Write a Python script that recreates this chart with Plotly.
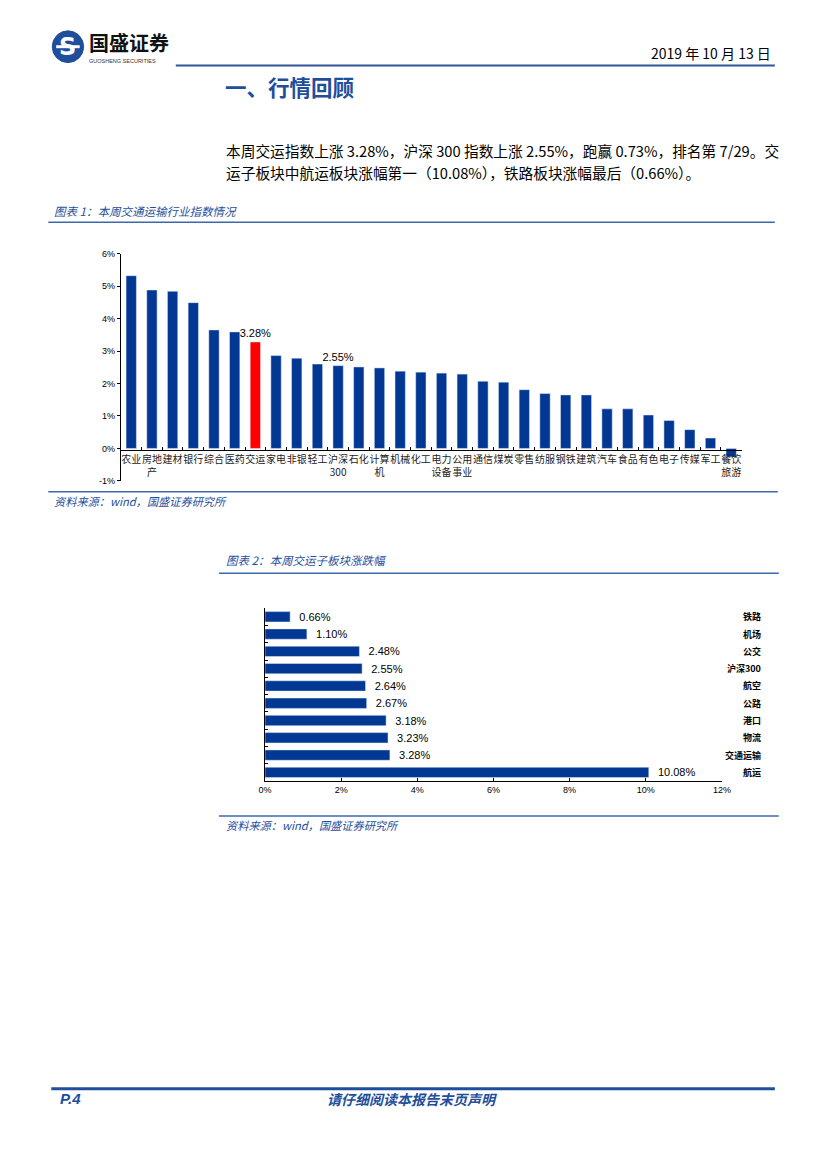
import plotly.graph_objects as go

# page is drawn inside the browser's default 8px body margin
OFF = 8
W, H = 827 - OFF, 1170 - OFF
def X(p): return (p - OFF) / W
def Y(p): return 1 - (p - OFF) / H

# ---------------- data ----------------
industries = ["农业", "房地产", "建材", "银行", "综合", "医药", "交运", "家电", "非银", "轻工",
              "沪深300", "石化", "计算机", "机械", "化工", "电力设备", "公用事业", "通信", "煤炭", "零售",
              "纺服", "钢铁", "建筑", "汽车", "食品", "有色", "电子", "传媒", "军工", "餐饮旅游"]
industry_ticktext = ["农业", "房地<br>产", "建材", "银行", "综合", "医药", "交运", "家电", "非银", "轻工",
                     "沪深<br>300", "石化", "计算<br>机", "机械", "化工", "电力<br>设备", "公用<br>事业", "通信", "煤炭", "零售",
                     "纺服", "钢铁", "建筑", "汽车", "食品", "有色", "电子", "传媒", "军工", "餐饮<br>旅游"]
industry_returns = [5.32, 4.88, 4.84, 4.49, 3.65, 3.59, 3.28, 2.86, 2.78, 2.60,
                    2.55, 2.51, 2.48, 2.38, 2.35, 2.32, 2.29, 2.07, 2.04, 1.81,
                    1.69, 1.65, 1.65, 1.22, 1.22, 1.03, 0.86, 0.58, 0.32, -0.26]
labelled_industries = ["交运", "沪深300"]
highlight_industry = "交运"

sub_sectors = ["铁路", "机场", "公交", "沪深300", "航空", "公路", "港口", "物流", "交通运输", "航运"]
sub_returns = [0.66, 1.10, 2.48, 2.55, 2.64, 2.67, 3.18, 3.23, 3.28, 10.08]

y1_ticks = [-1, 0, 1, 2, 3, 4, 5, 6]
x2_ticks = [0, 2, 4, 6, 8, 10, 12]

# ---------------- style ----------------
BAR = "#023894"
RED = "#FF0000"
NAVY = "#1F4E9B"
LINE = "#3D68AC"
CJK = "Noto Sans CJK SC"
LAT = "Liberation Sans, Arial"

fig = go.Figure()

fig.add_trace(go.Bar(
    x=industries, y=industry_returns,
    marker_color=[RED if n == highlight_industry else BAR for n in industries],
    width=0.5,
    text=[f"{v:.2f}%" if n in labelled_industries else "" for n, v in zip(industries, industry_returns)],
    textposition="outside", cliponaxis=False, constraintext="none",
    textfont=dict(family=LAT, size=11, color="#000"),
    xaxis="x", yaxis="y", showlegend=False,
))

fig.add_trace(go.Bar(
    x=sub_returns, y=sub_sectors, orientation="h",
    marker_color=BAR, width=0.6,
    text=[f"\u00a0\u00a0{v:.2f}%" for v in sub_returns],
    textposition="outside", cliponaxis=False, constraintext="none",
    textfont=dict(family=LAT, size=11, color="#000"),
    xaxis="x2", yaxis="y2", showlegend=False,
))

axis_common = dict(showgrid=False, zeroline=False, showline=True, linecolor="#000", linewidth=1, tickcolor="#000")

layout = dict(
    width=W, height=H, autosize=False,
    margin=dict(l=0, r=0, t=0, b=0),
    paper_bgcolor="white", plot_bgcolor="rgba(0,0,0,0)",
    font=dict(family=CJK, color="#000"),
    xaxis=dict(domain=[X(116), X(749)], anchor="free", position=Y(448.3),
               range=[-0.5, len(industries) - 0.5],
               tickmode="array", tickvals=industries, ticktext=industry_ticktext,
               ticks="inside", ticklen=3, tickson="boundaries", tickangle=0,
               tickfont=dict(family=CJK, size=10, color="#222"), **axis_common),
    yaxis=dict(domain=[Y(480), Y(250.7)], anchor="x", range=[-1, 6],
               tickmode="array", tickvals=y1_ticks, ticktext=[f"{t}%" for t in y1_ticks],
               ticks="outside", ticklen=3,
               tickfont=dict(family=LAT, size=9, color="#000"), **axis_common),
    xaxis2=dict(domain=[X(263), X(729)], anchor="y2", range=[0, 12],
                tickmode="array", tickvals=x2_ticks, ticktext=[f"{t}%" for t in x2_ticks],
                ticks="inside", ticklen=3,
                tickfont=dict(family=LAT, size=9, color="#000"), **axis_common),
    yaxis2=dict(domain=[Y(782.7), Y(608.3)], anchor="x2", type="category",
                categoryorder="array", categoryarray=sub_sectors,
                range=[len(sub_sectors) - 0.5, -0.5],
                showticklabels=False, ticks="inside", ticklen=3, tickson="boundaries",
                **axis_common),
)
fig.update_layout(**layout)

shapes = []
def hline(x0, x1, y, color, w):
    shapes.append(dict(type="line", xref="paper", yref="paper", x0=X(x0), x1=X(x1), y0=Y(y), y1=Y(y),
                       line=dict(color=color, width=w)))

hline(172, 783, 61, "#2E5597", 2)      # header
hline(42, 783, 219, LINE, 1.5)         # fig1 top
hline(42, 786, 491, LINE, 1.5)         # fig1 bottom
hline(216, 787, 573, LINE, 1.5)        # fig2 top
hline(216, 787, 818, LINE, 1.5)        # fig2 bottom
hline(45, 783, 1093, NAVY, 3)          # footer

# logo circle
shapes.append(dict(type="circle", xref="paper", yref="paper", x0=X(46), x1=X(78), y0=Y(58), y1=Y(26),
                   fillcolor=NAVY, line=dict(color=NAVY, width=1)))
shapes.append(dict(type="rect", xref="paper", yref="paper", x0=X(50), x1=X(74), y0=Y(43.5), y1=Y(40.5),
                   fillcolor="white", line=dict(width=0)))
fig.update_layout(shapes=shapes)

ann = []
def text(x, y, s, size, color="#000", anchor="left", family=CJK, yanchor="middle"):
    ann.append(dict(xref="paper", yref="paper", x=X(x), y=Y(y), text=s, showarrow=False,
                    xanchor=anchor, yanchor=yanchor, font=dict(family=family, size=size, color=color)))

text(62, 42, "<b>S</b>", 24, "white", "center", "DejaVu Sans")
text(81, 38, "<b>国盛证券</b>", 20, "#111")
text(81, 56.5, "GUOSHENG SECURITIES", 5.5, "#333", family=LAT)
text(781, 48, "2019 年 10 月 13 日", 14, "#000", "right")
text(220, 82, "<b>一、行情回顾</b>", 21.5, NAVY)
text(221, 147, "本周交运指数上涨 3.28%，沪深 300 指数上涨 2.55%，跑赢 0.73%，排名第 7/29。交", 14.7)
text(221, 169, "运子板块中航运板块涨幅第一（10.08%），铁路板块涨幅最后（0.66%）。", 14.7)
text(46, 208, "<i>图表 1：本周交通运输行业指数情况</i>", 11.5, NAVY)
text(46, 500, "<i>资料来源：wind，国盛证券研究所</i>", 11.2, NAVY)
text(221, 560, "<i>图表 2：本周交运子板块涨跌幅</i>", 11.5, NAVY)
text(221, 827, "<i>资料来源：wind，国盛证券研究所</i>", 11.2, NAVY)
text(52, 1103, "<b><i>P.4</i></b>", 15, NAVY, family=LAT)
text(413, 1103, "<b><i>请仔细阅读本报告末页声明</i></b>", 14, NAVY, "center")

for name in sub_sectors:
    ann.append(dict(xref="paper", yref="y2", x=X(771), y=name, text=f"<b>{name}</b>", showarrow=False,
                    xanchor="right", yanchor="middle", font=dict(family=CJK, size=9, color="#000")))

fig.update_layout(annotations=ann)
fig.write_html("out.html")
